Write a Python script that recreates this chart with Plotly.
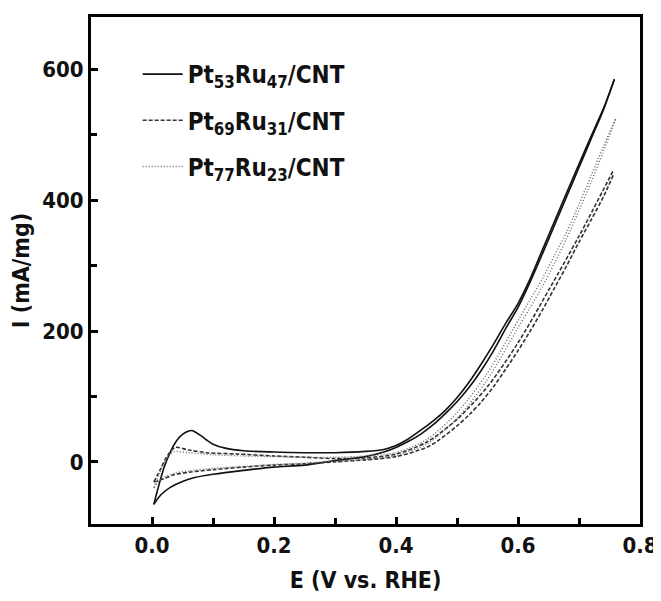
import plotly.graph_objects as go

# ---- data ----
names = ["Pt<sub>53</sub>Ru<sub>47</sub>/CNT",
         "Pt<sub>69</sub>Ru<sub>31</sub>/CNT",
         "Pt<sub>77</sub>Ru<sub>23</sub>/CNT"]

# Pt53Ru47/CNT  (solid)
s1_fwd_x = [0.003, 0.01, 0.02, 0.03, 0.04, 0.05, 0.06, 0.065, 0.07, 0.08, 0.09, 0.10, 0.12, 0.15, 0.20, 0.25,
            0.30, 0.35, 0.38, 0.40, 0.42, 0.44, 0.46, 0.48, 0.50, 0.52, 0.54, 0.56, 0.58, 0.60, 0.62, 0.64,
            0.66, 0.68, 0.70, 0.72, 0.74, 0.758]
s1_fwd_y = [-65, -40, -8, 15, 32, 42, 47, 48, 46, 40, 33, 27, 21, 17, 15, 14,
            14, 16, 19, 25, 35, 48, 62, 78, 98, 122, 150, 180, 212, 242, 280, 324,
            368, 412, 455, 498, 540, 585]
s1_bwd_x = [0.758, 0.74, 0.72, 0.70, 0.68, 0.66, 0.64, 0.62, 0.60, 0.58, 0.56, 0.54, 0.52, 0.50, 0.48, 0.46,
            0.44, 0.42, 0.40, 0.38, 0.35, 0.30, 0.25, 0.20, 0.15, 0.10, 0.07, 0.05, 0.03, 0.015, 0.003]
s1_bwd_y = [585, 538, 494, 450, 406, 362, 318, 275, 236, 204, 170, 140, 114, 92, 73, 56,
            42, 31, 22, 15, 8, 2, -5, -8, -13, -19, -24, -30, -39, -50, -65]

# Pt69Ru31/CNT  (dashed)
s2_fwd_x = [0.003, 0.014, 0.025, 0.038, 0.06, 0.09, 0.14, 0.20, 0.25, 0.30, 0.35, 0.40, 0.45, 0.50, 0.55,
            0.60, 0.65, 0.70, 0.756]
s2_fwd_y = [-31, -11, 9, 22, 18, 14, 12, 9, 7, 5, 6, 12, 30, 65, 115, 182, 262, 345, 445]
s2_bwd_x = [0.756, 0.74, 0.72, 0.70, 0.68, 0.66, 0.64, 0.62, 0.60, 0.58, 0.56, 0.54, 0.52, 0.50, 0.47,
            0.45, 0.40, 0.35, 0.30, 0.25, 0.20, 0.15, 0.10, 0.06, 0.035, 0.019, 0.003]
s2_bwd_y = [438, 405, 370, 336, 300, 266, 232, 200, 170, 142, 115, 92, 72, 55, 33,
            22, 8, 3, 0, -3, -5, -8, -12, -16, -20, -26, -31]

# Pt77Ru23/CNT  (dotted)
s3_fwd_x = [0.003, 0.012, 0.022, 0.035, 0.06, 0.10, 0.15, 0.20, 0.25, 0.30, 0.35, 0.40, 0.45, 0.50, 0.55,
            0.60, 0.62, 0.64, 0.66, 0.68, 0.70, 0.72, 0.74, 0.76]
s3_fwd_y = [-40, -18, 2, 15, 14, 11, 9, 8, 7, 7, 9, 14, 34, 75, 136, 216, 248, 280, 316, 352, 394, 438, 482, 524]
s3_bwd_x = [0.76, 0.74, 0.72, 0.70, 0.68, 0.66, 0.64, 0.62, 0.60, 0.55, 0.50, 0.45, 0.40, 0.35, 0.30,
            0.25, 0.20, 0.15, 0.10, 0.06, 0.035, 0.015, 0.003]
s3_bwd_y = [524, 474, 428, 384, 342, 304, 268, 236, 205, 126, 66, 27, 10, 4, 1,
            -2, -4, -7, -10, -14, -18, -26, -40]

x_ticks = [0.0, 0.2, 0.4, 0.6, 0.8]
x_tick_labels = ["0.0", "0.2", "0.4", "0.6", "0.8"]
y_ticks = [0, 200, 400, 600]
y_tick_labels = ["0", "200", "400", "600"]

# ---- styling ----
FONT = "DejaVu Sans Condensed, Liberation Sans Narrow, Arial Narrow, sans-serif"
styles = [dict(color="#111111", width=1.6, dash="solid"),
          dict(color="#333333", width=1.6, dash="4px,2px"),
          dict(color="#666666", width=1.4, dash="1px,2px")]

series = [(s1_fwd_x, s1_fwd_y, s1_bwd_x, s1_bwd_y),
          (s2_fwd_x, s2_fwd_y, s2_bwd_x, s2_bwd_y),
          (s3_fwd_x, s3_fwd_y, s3_bwd_x, s3_bwd_y)]

fig = go.Figure()
for i, (fx, fy, bx, by) in enumerate(series):
    fig.add_trace(go.Scatter(x=fx, y=fy, mode="lines", name=names[i], legendgroup=f"g{i}",
                             line=dict(shape="spline", smoothing=0.8, **styles[i])))
    fig.add_trace(go.Scatter(x=bx, y=by, mode="lines", name=names[i], legendgroup=f"g{i}",
                             showlegend=False,
                             line=dict(shape="spline", smoothing=0.8, **styles[i])))

axis_common = dict(showline=True, linewidth=3, linecolor="black", mirror=True,
                   ticks="inside", ticklen=7, tickwidth=2.5, tickcolor="black",
                   showgrid=False, zeroline=False, automargin=False,
                   tickfont=dict(family=FONT, size=22, color="#111", weight="bold"))

title_font = dict(family=FONT, size=23, color="#111", weight="bold")

# the page body adds an ~8px offset, so the figure is sized to fit inside the window
fig.update_layout(
    width=653, height=593,
    margin=dict(l=83, r=21, t=9, b=77),
    paper_bgcolor="white", plot_bgcolor="white",
    xaxis=dict(range=[-0.1, 0.8], tickvals=x_ticks, ticktext=x_tick_labels,
               minor=dict(tickvals=[-0.1, 0.1, 0.3, 0.5, 0.7], ticks="inside", ticklen=6,
                          tickwidth=2.5, tickcolor="black"),
               title=dict(text="E (V vs. RHE)", font=title_font),
               **axis_common),
    yaxis=dict(range=[-95, 680], tickvals=y_ticks, ticktext=y_tick_labels,
               minor=dict(tickvals=[100, 300, 500], ticks="inside", ticklen=6,
                          tickwidth=2.5, tickcolor="black"),
               title=dict(text="I (mA/mg)", font=title_font),
               **axis_common),
    legend=dict(x=0.085, y=0.931, xanchor="left", yanchor="top", bgcolor="rgba(0,0,0,0)",
                font=dict(family=FONT, size=24, color="#111", weight="bold"),
                tracegroupgap=12, itemwidth=40),
    showlegend=True,
)

fig.write_html("out.html")
